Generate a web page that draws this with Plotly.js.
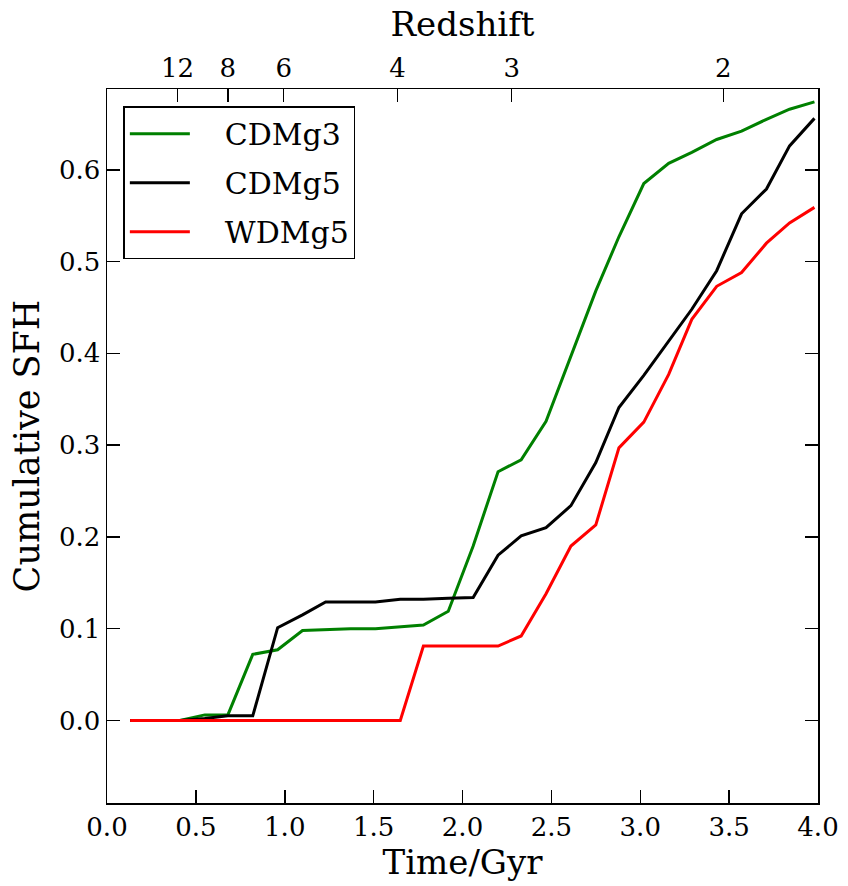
<!DOCTYPE html>
<html>
<head>
<meta charset="utf-8">
<script src="https://cdn.plot.ly/plotly-3.0.1.min.js"></script>
<style>html,body{margin:0;padding:0;background:#fff;}#chart{width:848px;height:886px;}</style>
</head>
<body>
<div id="chart"></div>
<script>
// Time (Gyr) sample points
const timeGyr = [0.13,0.27,0.41,0.55,0.68,0.82,0.96,1.10,1.23,1.37,1.51,1.65,1.78,1.92,2.06,2.20,2.33,2.47,2.61,2.75,2.88,3.02,3.16,3.29,3.43,3.57,3.71,3.84,3.98];
// Cumulative SFH series
const cdmg3 = [0,0,0,0.006,0.006,0.072,0.077,0.098,0.099,0.100,0.100,0.102,0.104,0.119,0.190,0.271,0.284,0.326,0.397,0.468,0.527,0.585,0.607,0.619,0.633,0.642,0.655,0.666,0.674];
const cdmg5 = [0,0,0,0.002,0.005,0.005,0.101,0.115,0.129,0.129,0.129,0.132,0.132,0.133,0.134,0.180,0.201,0.210,0.234,0.281,0.341,0.376,0.413,0.448,0.490,0.552,0.579,0.626,0.656];
const wdmg5 = [0,0,0,0,0,0,0,0,0,0,0,0,0.081,0.081,0.081,0.081,0.092,0.138,0.190,0.213,0.297,0.325,0.377,0.437,0.473,0.488,0.520,0.542,0.559];
// Redshift top axis
const redshiftTimes = [0.397,0.68,0.994,1.634,2.277,3.467];
const redshiftLabels = ['12','8','6','4','3','2'];
const seriesNames = ['CDMg3','CDMg5','WDMg5'];
const seriesColors = ['#008000','#000000','#ff0000'];

const font = 'DejaVu Serif, serif';
const seriesData = [cdmg3, cdmg5, wdmg5];
const traces = seriesData.map((ys, i) => ({
  x: timeGyr, y: ys, type: 'scatter', mode: 'lines',
  name: '\u2002\u2002' + seriesNames[i], legendgroup: 'g' + i,
  line: {color: seriesColors[i], width: 3}
}));
// invisible carrier trace so the top (redshift) axis is drawn
traces.push({
  x: redshiftTimes, y: redshiftTimes.map(() => null), xaxis: 'x2', yaxis: 'y',
  type: 'scatter', mode: 'lines', showlegend: false, hoverinfo: 'skip',
  line: {color: 'rgba(0,0,0,0)'}
});

const layout = {
  width: 848, height: 886,
  margin: {l: 107, r: 30, t: 89, b: 83},
  paper_bgcolor: '#fff', plot_bgcolor: '#fff',
  font: {family: font, color: '#000', size: 26},
  showlegend: true,
  legend: {
    x: 0.023, y: 0.976, xanchor: 'left', yanchor: 'top',
    bordercolor: '#000', borderwidth: 1.5, bgcolor: '#fff',
    font: {family: font, size: 30, color: '#000'},
    traceorder: 'grouped', tracegroupgap: 7,
    itemwidth: 60
  },
  xaxis: {
    range: [0, 4], tickvals: [0,0.5,1,1.5,2,2.5,3,3.5,4], tickformat: '.1f',
    ticks: 'inside', ticklen: 13, tickwidth: 1.5, tickcolor: '#000',
    showline: true, linecolor: '#000', linewidth: 1.5, mirror: false,
    showgrid: false, zeroline: false,
    tickfont: {family: font, size: 26},
    title: {text: 'Time/Gyr', font: {family: font, size: 34}, standoff: 4}
  },
  xaxis2: {
    overlaying: 'x', side: 'top', anchor: 'y', range: [0, 4],
    tickvals: redshiftTimes, ticktext: redshiftLabels,
    ticks: 'inside', ticklen: 13, tickwidth: 1.5, tickcolor: '#000',
    showline: true, linecolor: '#000', linewidth: 1.5,
    showgrid: false, zeroline: false,
    tickfont: {family: font, size: 26},
    title: {text: 'Redshift', font: {family: font, size: 34}, standoff: 6}
  },
  yaxis: {
    range: [-0.09, 0.688], tickvals: [0,0.1,0.2,0.3,0.4,0.5,0.6], tickformat: '.1f',
    ticks: 'inside', ticklen: 13, tickwidth: 1.5, tickcolor: '#000',
    showline: true, linecolor: '#000', linewidth: 1.5, mirror: 'ticks',
    showgrid: false, zeroline: false,
    tickfont: {family: font, size: 26},
    title: {text: 'Cumulative SFH', font: {family: font, size: 35}, standoff: 8}
  }
};

Plotly.newPlot('chart', traces, layout, {displayModeBar: false, staticPlot: true});
</script>
</body>
</html>
